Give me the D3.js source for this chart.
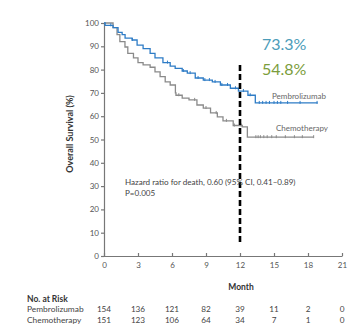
<!DOCTYPE html>
<html><head><meta charset="utf-8">
<script src="https://cdn.jsdelivr.net/npm/d3@7"></script>
<style>body{margin:0;background:#fff;} text{font-family:Lato,"Open Sans",sans-serif;}</style>
</head><body>
<svg id="chart" width="354" height="329"></svg>
<script>
// Kaplan-Meier step points [month, % surviving]
const pembroCurve = [[0,100],[0.1,99],[0.8,98],[1.24,96],[1.6,95],[1.86,93.5],[2.48,92.7],[2.92,90.5],[3.45,89],[4.07,87],[4.5,85],[5.2,83],[5.84,81.5],[6.28,80.5],[6.9,79.4],[7.35,78.5],[8.05,76.4],[8.76,75.5],[9.56,74.7],[10.27,73.4],[11.15,72],[11.86,70.8],[12.7,69],[13.35,65.7],[18.85,65.7]];
const chemoCurve = [[0,100],[0.8,98],[1.15,95],[1.4,92],[1.85,89.7],[2.1,87],[2.6,85],[3.0,83],[3.45,82],[4.07,81],[4.5,79],[4.95,77],[5.4,74.7],[5.84,73.4],[6.3,70],[6.35,69],[6.9,67.8],[7.5,67],[8.2,64.8],[8.76,63.5],[9.4,61.4],[10.0,59.7],[10.5,58],[11.4,56],[12.2,55.4],[12.65,51],[18.5,51]];
const pembroCensor = [0.6,2.5,5.6,7.0,7.6,8.3,8.9,9.3,9.8,10.4,10.9,11.6,12.3,12.9,13.7,14.0,14.3,14.6,15.0,15.3,15.6,16.2,17.3,18.8];
const chemoCensor = [6.6,8.0,9.0,9.9,10.8,11.5,12.1,13.4,13.6,13.8,14.1,14.4,14.8,15.2,16.0,16.8,17.5,18.5];
const xTicks = [0,3,6,9,12,15,18,21];
const yTicks = [0,10,20,30,40,50,60,70,80,90,100];
const riskPembro = [154,136,121,82,39,11,2,0];
const riskChemo = [151,123,106,64,34,7,1,0];
const groups = ["Pembrolizumab","Chemotherapy"];
const landmark = ["73.3%","54.8%"];
const hazardText = ["Hazard ratio for death, 0.60 (95% CI, 0.41\u20130.89)","P=0.005"];

const svg = d3.select("#chart");
const x = d3.scaleLinear().domain([0,21]).range([104,342]);
const y = d3.scaleLinear().domain([0,100]).range([256,23]);
const axisCol = "#777", textCol = "#444";

// axes
const ya = svg.append("g").attr("transform","translate(104,0)")
  .call(d3.axisLeft(y).tickValues(yTicks).tickSize(3).tickPadding(2));
ya.selectAll("path,line").attr("stroke",axisCol).attr("stroke-width",1.2);
ya.selectAll("text").attr("font-size",8).attr("fill","#555");
const xa = svg.append("g").attr("transform","translate(0,256)")
  .call(d3.axisBottom(x).tickValues(xTicks).tickSize(-3).tickPadding(6).tickSizeOuter(0));
xa.selectAll("path,line").attr("stroke",axisCol).attr("stroke-width",1.2);
xa.selectAll("text").attr("font-size",8).attr("fill","#555");

svg.append("text").attr("transform","translate(73,134) rotate(-90)").attr("text-anchor","middle")
  .attr("font-size",9).attr("font-weight","bold").attr("fill","#333").text("Overall Survival (%)");
svg.append("text").attr("x",241).attr("y",290).attr("text-anchor","middle")
  .attr("font-size",8.5).attr("font-weight","bold").attr("fill","#333").text("Month");

// curves
const line = d3.line().x(d=>x(d[0])).y(d=>y(d[1])).curve(d3.curveStepAfter);
function survAt(curve,t){let v=curve[0][1];for(const p of curve){if(p[0]<=t)v=p[1];}return v;}
[[chemoCurve,chemoCensor,"#8a8a8a"],[pembroCurve,pembroCensor,"#2e7cc6"]].forEach(([c,cs,col])=>{
  svg.append("path").datum(c).attr("d",line).attr("fill","none").attr("stroke",col).attr("stroke-width",1.3);
  svg.append("g").selectAll("line").data(cs).join("line")
    .attr("x1",d=>x(d)).attr("x2",d=>x(d))
    .attr("y1",d=>y(survAt(c,d))-2).attr("y2",d=>y(survAt(c,d))+1)
    .attr("stroke",col).attr("stroke-width",1);
});

svg.append("text").attr("x",272).attr("y",99).attr("font-size",8).attr("fill","#666").text(groups[0]);
svg.append("text").attr("x",276).attr("y",131).attr("font-size",8).attr("fill","#666").text(groups[1]);

// landmark line
svg.append("line").attr("x1",x(12)).attr("x2",x(12)).attr("y1",65).attr("y2",243)
  .attr("stroke","#000").attr("stroke-width",2.6).attr("stroke-dasharray","6,3");

svg.append("text").attr("x",262).attr("y",50).attr("font-size",16).attr("fill","#4b9cb9").text(landmark[0]);
svg.append("text").attr("x",262).attr("y",75).attr("font-size",16).attr("fill","#7b9d3c").text(landmark[1]);

svg.append("text").attr("x",125).attr("y",185).attr("font-size",8.1).attr("fill",textCol).text(hazardText[0]);
svg.append("text").attr("x",125).attr("y",196).attr("font-size",8.1).attr("fill",textCol).text(hazardText[1]);

// risk table
svg.append("text").attr("x",27).attr("y",302).attr("font-size",8.5).attr("font-weight","bold").attr("fill","#333").text("No. at Risk");
[[riskPembro,312],[riskChemo,323]].forEach(([arr,yy],i)=>{
  svg.append("text").attr("x",27).attr("y",yy).attr("font-size",8.4).attr("fill",textCol).text(groups[i]);
  svg.append("g").selectAll("text").data(arr).join("text")
    .attr("x",(d,j)=>x(xTicks[j])).attr("y",yy).attr("text-anchor","middle")
    .attr("font-size",8.2).attr("fill",textCol).text(d=>d);
});
</script>
</body></html>
